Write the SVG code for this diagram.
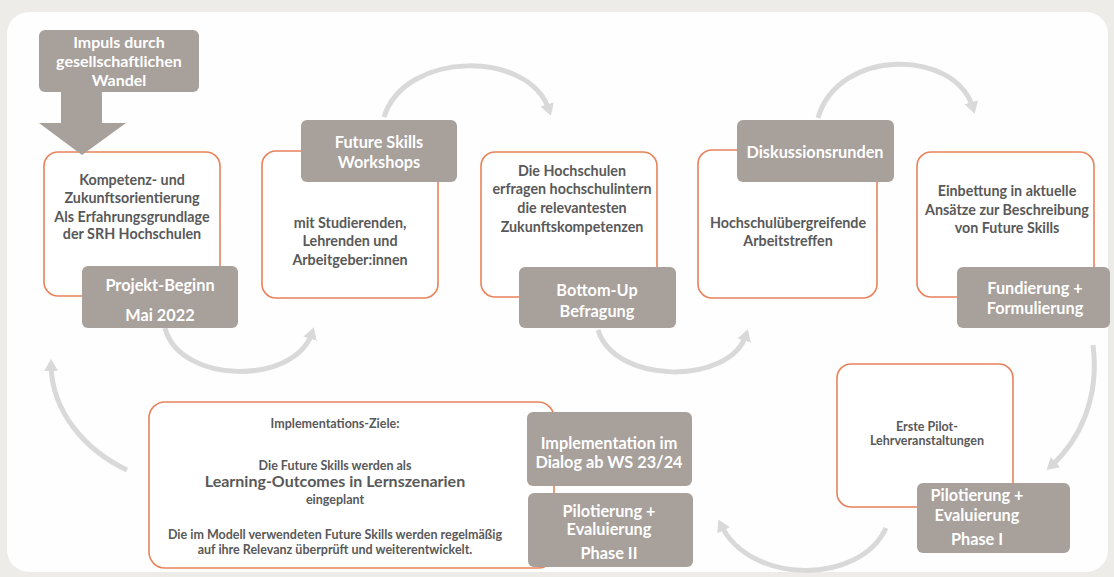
<svg xmlns="http://www.w3.org/2000/svg" width="1114" height="577" viewBox="0 0 1114 577">
<style>
.box{fill:#ffffff;stroke:#e9825a;stroke-width:1.6}
.lab{fill:#a7a09b}
.t{font-family:Lato,"Liberation Sans",sans-serif;font-weight:700;fill:#595959;text-anchor:middle;font-size:14.3px}
.s{font-size:12.5px}
.w{font-family:Lato,"Liberation Sans",sans-serif;font-weight:700;fill:#ffffff;text-anchor:middle;font-size:16.3px}
.arc{fill:none;stroke:#d9d9d9;stroke-width:5;marker-end:url(#ah)}
</style>
<defs>
<marker id="ah" markerUnits="userSpaceOnUse" markerWidth="16" markerHeight="16" refX="6" refY="7" orient="auto">
<path d="M0,0 L12,7 L0,14 z" fill="#d9d9d9"/>
</marker>
</defs>
<rect x="0" y="0" width="1114" height="577" fill="#edece8"/>
<rect x="7" y="12" width="1101" height="560" rx="22" fill="#fefefe"/>
<g id="connectors">
<path class="arc" d="M165,328 C180,385 295,385 312,333"/>
<path class="arc" d="M384,117 C405,50 530,50 549,110"/>
<path class="arc" d="M598,330 C615,385 730,385 746,335"/>
<path class="arc" d="M818,118 C838,48 955,48 973,108"/>
<path class="arc" d="M1093,345 C1100,400 1078,442 1051,466"/>
<path class="arc" d="M886,528 C860,585 750,585 721,525"/>
<path class="arc" d="M127,470 C85,450 52,412 51,365"/>
</g>
<g id="n1">
<rect class="box" x="44" y="152" width="176" height="144" rx="14"/>
<text class="t" x="132" y="185">Kompetenz- und</text>
<text class="t" x="132" y="203">Zukunftsorientierung</text>
<text class="t" x="132" y="222">Als Erfahrungsgrundlage</text>
<text class="t" x="132" y="239">der SRH Hochschulen</text>
<rect class="lab" x="82" y="266" width="156" height="62" rx="6"/>
<text class="w" x="160" y="291">Projekt-Beginn</text>
<text class="w" x="160" y="321">Mai 2022</text>
</g>
<g id="n0">
<rect class="lab" x="39" y="30" width="160" height="62" rx="6"/>
<polygon class="lab" points="61,91 102,91 102,123 126,123 82,155 39,123 61,123"/>
<text class="w" x="119" y="48" style="font-size:16px">Impuls durch</text>
<text class="w" x="119" y="67" style="font-size:16px">gesellschaftlichen</text>
<text class="w" x="119" y="86" style="font-size:16px">Wandel</text>
</g>
<g id="n2">
<rect class="box" x="262" y="151" width="176" height="147" rx="14"/>
<text class="t" x="350" y="228">mit Studierenden,</text>
<text class="t" x="350" y="246">Lehrenden und</text>
<text class="t" x="350" y="265">Arbeitgeber:innen</text>
<rect class="lab" x="301" y="120" width="156" height="62" rx="6"/>
<text class="w" x="379" y="148">Future Skills</text>
<text class="w" x="379" y="168">Workshops</text>
</g>
<g id="n3">
<rect class="box" x="481" y="152" width="176" height="145" rx="14"/>
<text class="t" x="572" y="176">Die Hochschulen</text>
<text class="t" x="572" y="194">erfragen hochschulintern</text>
<text class="t" x="572" y="213">die relevantesten</text>
<text class="t" x="572" y="232">Zukunftskompetenzen</text>
<rect class="lab" x="519" y="267" width="157" height="61" rx="6"/>
<text class="w" x="597" y="296">Bottom-Up</text>
<text class="w" x="597" y="317">Befragung</text>
</g>
<g id="n4">
<rect class="box" x="698" y="150" width="179" height="148" rx="14"/>
<text class="t" x="788" y="228">Hochschulübergreifende</text>
<text class="t" x="788" y="246">Arbeitstreffen</text>
<rect class="lab" x="737" y="120" width="157" height="62" rx="6"/>
<text class="w" x="815" y="158">Diskussionsrunden</text>
</g>
<g id="n5">
<rect class="box" x="917" y="152" width="177" height="145" rx="14"/>
<text class="t" x="1007" y="196">Einbettung in aktuelle</text>
<text class="t" x="1007" y="215">Ansätze zur Beschreibung</text>
<text class="t" x="1007" y="233">von Future Skills</text>
<rect class="lab" x="957" y="267" width="153" height="61" rx="6"/>
<text class="w" x="1035" y="294">Fundierung +</text>
<text class="w" x="1035" y="314">Formulierung</text>
</g>
<g id="n6">
<rect class="box" x="149" y="402" width="405" height="166" rx="16"/>
<text class="t s" x="335" y="428">Implementations-Ziele:</text>
<text class="t s" x="335" y="470">Die Future Skills werden als</text>
<text class="t" x="335" y="487" style="font-size:16px">Learning-Outcomes in Lernszenarien</text>
<text class="t s" x="335" y="504">eingeplant</text>
<text class="t" x="335" y="539" style="font-size:12.5px">Die im Modell verwendeten Future Skills werden regelmäßig</text>
<text class="t" x="335" y="554" style="font-size:12.5px">auf ihre Relevanz überprüft und weiterentwickelt.</text>
</g>
<g id="n7">
<rect class="lab" x="527" y="412" width="165" height="74" rx="6"/>
<text class="w" x="609" y="449">Implementation im</text>
<text class="w" x="609" y="468">Dialog ab WS 23/24</text>
</g>
<g id="n8">
<rect class="lab" x="528" y="493" width="165" height="74" rx="6"/>
<text class="w" x="609" y="517">Pilotierung +</text>
<text class="w" x="609" y="535">Evaluierung</text>
<text class="w" x="609" y="559">Phase II</text>
</g>
<g id="n9">
<rect class="box" x="837" y="364" width="176" height="143" rx="14"/>
<text class="t s" x="927" y="431">Erste Pilot-</text>
<text class="t s" x="927" y="445">Lehrveranstaltungen</text>
<rect class="lab" x="917" y="483" width="153" height="70" rx="6"/>
<text class="w" x="977" y="501">Pilotierung +</text>
<text class="w" x="977" y="521">Evaluierung</text>
<text class="w" x="977" y="545">Phase I</text>
</g>
</svg>
